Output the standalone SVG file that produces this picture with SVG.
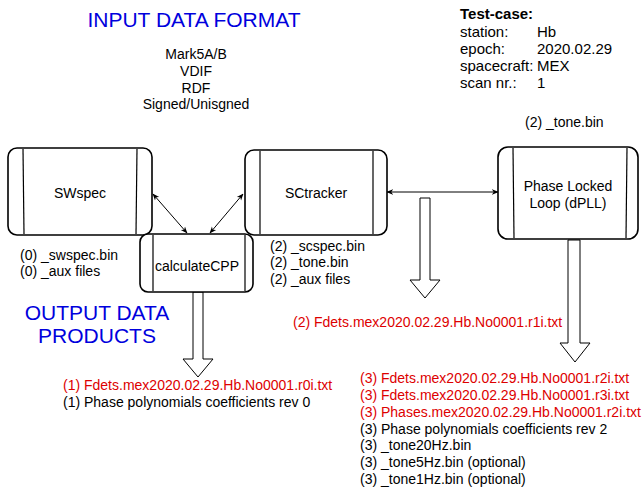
<svg xmlns="http://www.w3.org/2000/svg" width="644" height="489" viewBox="0 0 644 489">
<defs>
<style>
text{font-family:"Liberation Sans",Arial,sans-serif;font-size:14px;fill:#000}
.blue{fill:#0000dd;font-size:21px}
.red{fill:#dd0000}
.tc{font-size:15px}
.box{fill:#fff;stroke:#000;stroke-width:1.6}
.inner{stroke:#000;stroke-width:1.2;fill:none}
.conn{stroke:#000;stroke-width:1;fill:none}
.block{fill:#fff;stroke:#000;stroke-width:1}
.c{text-anchor:middle}
</style>
<marker id="ah" viewBox="0 0 10 10" refX="9" refY="5" markerWidth="7" markerHeight="7" orient="auto-start-reverse" markerUnits="userSpaceOnUse">
<path d="M0,1 L10,5 L0,9 L3,5 Z" fill="#000"/>
</marker>
</defs>
<rect width="644" height="489" fill="#fff"/>

<text class="blue c" x="194" y="27">INPUT DATA FORMAT</text>
<g id="formats" font-size="13.5">
<text class="c" x="196" y="59" font-size="13.5">Mark5A/B</text>
<text class="c" x="196" y="76" font-size="13.5">VDIF</text>
<text class="c" x="196" y="93" font-size="13.5">RDF</text>
<text class="c" x="196" y="109" font-size="13.5">Signed/Unisgned</text>
</g>

<g id="testcase">
<text class="tc" x="460" y="19" font-weight="bold">Test-case:</text>
<text class="tc" x="460" y="37">station:</text><text class="tc" x="537" y="37">Hb</text>
<text class="tc" x="460" y="54">epoch:</text><text class="tc" x="537" y="54">2020.02.29</text>
<text class="tc" x="460" y="71">spacecraft:</text><text class="tc" x="537" y="71">MEX</text>
<text class="tc" x="460" y="88">scan nr.:</text><text class="tc" x="537" y="88">1</text>
</g>
<text x="525" y="127">(2) _tone.bin</text>

<g id="connectors">
<line class="conn" x1="153" y1="194" x2="187" y2="233" marker-start="url(#ah)" marker-end="url(#ah)"/>
<line class="conn" x1="243" y1="194" x2="210" y2="233" marker-start="url(#ah)" marker-end="url(#ah)"/>
<line class="conn" x1="387" y1="192" x2="498" y2="192" marker-start="url(#ah)" marker-end="url(#ah)"/>
<path class="block" d="M193,292 L203,292 L203,359 L213,359 L198,377 L183,359 L193,359 Z"/>
<path class="block" d="M420,198 L430,198 L430,280 L440,280 L425,298 L410,280 L420,280 Z"/>
<path class="block" d="M568,240 L580,240 L580,343 L590,343 L575,362 L560,343 L568,343 Z"/>
</g>

<g id="swspec">
<rect class="box" x="8" y="148" width="144" height="87" rx="9"/>
<line class="inner" x1="23" y1="149" x2="24" y2="234"/>
<line class="inner" x1="137" y1="149" x2="136" y2="234"/>
<text class="c" x="80" y="198" font-size="16">SWspec</text>
</g>
<text x="20" y="260">(0) _swspec.bin</text>
<text x="20" y="276">(0) _aux files</text>

<g id="sctracker">
<rect class="box" x="245" y="150" width="142" height="85" rx="9"/>
<line class="inner" x1="260" y1="151" x2="260" y2="234"/>
<line class="inner" x1="373" y1="151" x2="373" y2="234"/>
<text class="c" x="316" y="198" font-size="14.5">SCtracker</text>
</g>
<text x="270" y="251">(2) _scspec.bin</text>
<text x="270" y="267">(2) _tone.bin</text>
<text x="270" y="284">(2) _aux files</text>

<g id="calculatecpp">
<rect class="box" x="140" y="234" width="113" height="58" rx="8"/>
<line class="inner" x1="153" y1="235" x2="153" y2="291"/>
<line class="inner" x1="245" y1="235" x2="245" y2="291"/>
<text class="c" x="197" y="271" font-size="15.5">calculateCPP</text>
</g>

<g id="pll">
<rect class="box" x="498" y="147" width="140" height="92" rx="10"/>
<line class="inner" x1="513" y1="148" x2="514" y2="238"/>
<line class="inner" x1="627" y1="148" x2="626" y2="238"/>
<text class="c" x="568" y="191" font-size="11.5">Phase Locked</text>
<text class="c" x="568" y="208" font-size="11.5">Loop (dPLL)</text>
</g>

<g id="outputs">
<text class="blue c" x="97" y="320">OUTPUT DATA</text>
<text class="blue c" x="97" y="343">PRODUCTS</text>
<text class="red" x="63" y="390">(1) Fdets.mex2020.02.29.Hb.No0001.r0i.txt</text>
<text x="63" y="407">(1) Phase polynomials coefficients rev 0</text>
<text class="red" x="293" y="327">(2) Fdets.mex2020.02.29.Hb.No0001.r1i.txt</text>
<text class="red" x="360" y="383">(3) Fdets.mex2020.02.29.Hb.No0001.r2i.txt</text>
<text class="red" x="360" y="400">(3) Fdets.mex2020.02.29.Hb.No0001.r3i.txt</text>
<text class="red" x="360" y="417">(3) Phases.mex2020.02.29.Hb.No0001.r2i.txt</text>
<text x="360" y="434">(3) Phase polynomials coefficients rev 2</text>
<text x="360" y="450">(3) _tone20Hz.bin</text>
<text x="360" y="467">(3) _tone5Hz.bin (optional)</text>
<text x="360" y="484">(3) _tone1Hz.bin (optional)</text>
</g>
</svg>
